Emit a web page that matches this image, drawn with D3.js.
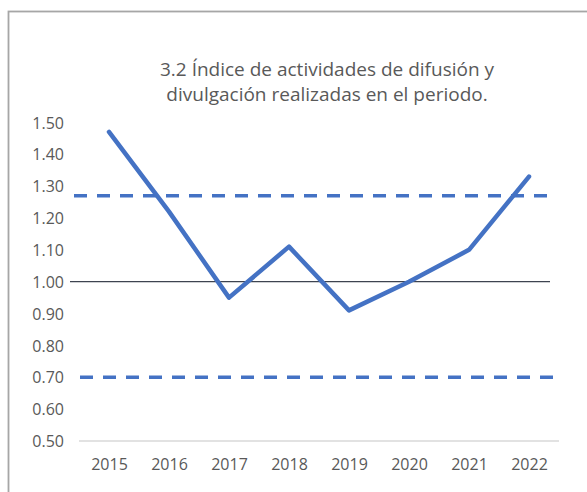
<!DOCTYPE html>
<html>
<head>
<meta charset="utf-8">
<script src="https://cdn.jsdelivr.net/npm/d3@7"></script>
<style>
  body { margin: 0; background: #fff; }
  svg { display: block; }
  .tick text { font-family: "Open Sans", sans-serif; font-size: 16px; fill: #595959; }
</style>
</head>
<body>
<svg width="587" height="492"></svg>
<script>
  // data
  var years = ["2015", "2016", "2017", "2018", "2019", "2020", "2021", "2022"];
  var indice = [1.47, 1.22, 0.95, 1.11, 0.91, 1.00, 1.10, 1.33];
  var limiteSup = 1.27, limiteInf = 0.70, referencia = 1.00;
  var yTicks = [0.5, 0.6, 0.7, 0.8, 0.9, 1.0, 1.1, 1.2, 1.3, 1.4, 1.5];
  var titulo = ["3.2 Índice de actividades de difusión y", "divulgación realizadas en el periodo."];

  var svg = d3.select("svg");
  var azul = "#4472C4";

  // chart frame (runs off the right and bottom of the picture)
  svg.append("rect")
      .attr("x", 8.5).attr("y", 11.5)
      .attr("width", 600).attr("height", 500)
      .attr("fill", "none")
      .attr("stroke", "#a6a6a6")
      .attr("stroke-width", 1.8);

  var x = d3.scalePoint().domain(years).range([79, 559]).padding(0.5);
  var y = d3.scaleLinear().domain([0.5, 1.5]).range([441, 122.4]);

  // title
  svg.append("text")
      .attr("x", 327).attr("y", 76)
      .attr("text-anchor", "middle")
      .style("font-family", "'Open Sans', sans-serif")
      .style("font-size", "19px")
      .attr("fill", "#595959")
      .selectAll("tspan")
      .data(titulo).enter()
      .append("tspan")
      .attr("x", 327)
      .attr("dy", function (d, i) { return i == 0 ? 0 : 25; })
      .text(function (d) { return d; });

  // bottom axis line
  svg.append("line")
      .attr("x1", 79).attr("x2", 559)
      .attr("y1", y(0.5)).attr("y2", y(0.5))
      .attr("stroke", "#d9d9d9").attr("stroke-width", 1.5);

  // axes
  var yAxis = svg.append("g")
      .attr("transform", "translate(64,0)")
      .call(d3.axisLeft(y).tickValues(yTicks).tickFormat(d3.format(".2f")).tickSize(0).tickPadding(0));
  yAxis.select(".domain").remove();
  yAxis.selectAll(".tick text").attr("dy", "0.35em");

  var xAxis = svg.append("g")
      .attr("transform", "translate(0," + y(0.5) + ")")
      .call(d3.axisBottom(x).tickSize(0).tickPadding(18));
  xAxis.select(".domain").remove();

  // reference line at 1.00
  svg.append("line")
      .attr("x1", 70).attr("x2", 550)
      .attr("y1", y(referencia)).attr("y2", y(referencia))
      .attr("stroke", "#3e4450").attr("stroke-width", 1.3);

  // dashed limits
  svg.append("line")
      .attr("x1", 74).attr("x2", 547)
      .attr("y1", y(limiteSup)).attr("y2", y(limiteSup))
      .attr("stroke", azul).attr("stroke-width", 3.5)
      .attr("stroke-dasharray", "13,10");
  svg.append("line")
      .attr("x1", 80).attr("x2", 553)
      .attr("y1", y(limiteInf)).attr("y2", y(limiteInf))
      .attr("stroke", azul).attr("stroke-width", 3.5)
      .attr("stroke-dasharray", "13,10");

  // the index line
  var line = d3.line()
      .x(function (d, i) { return x(years[i]); })
      .y(function (d) { return y(d); });
  svg.append("path")
      .datum(indice)
      .attr("d", line)
      .attr("fill", "none")
      .attr("stroke", azul)
      .attr("stroke-width", 4.5)
      .attr("stroke-linejoin", "round")
      .attr("stroke-linecap", "round");
</script>
</body>
</html>
